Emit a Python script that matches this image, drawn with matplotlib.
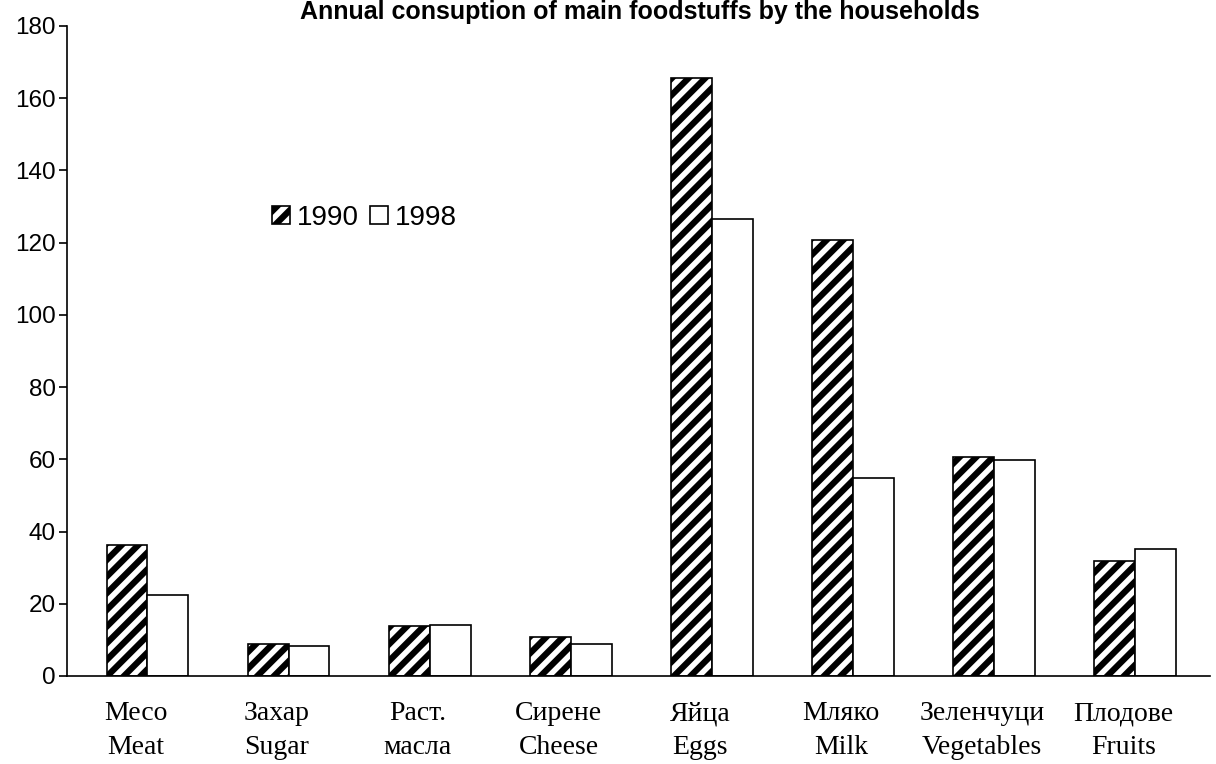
import numpy as np
import matplotlib
matplotlib.use("Agg")
import matplotlib.pyplot as plt

# data
cats_bg = ["Месо", "Захар", "Раст.", "Сирене", "Яйца", "Мляко", "Зеленчуци", "Плодове"]
cats_en = ["Meat", "Sugar", "масла", "Cheese", "Eggs", "Milk", "Vegetables", "Fruits"]
vals_1990 = [36.3, 9.0, 13.9, 10.7, 165.5, 120.7, 60.6, 31.8]
vals_1998 = [22.4, 8.4, 14.0, 9.0, 126.6, 54.8, 59.8, 35.2]
yticks = [0, 20, 40, 60, 80, 100, 120, 140, 160, 180]

plt.rcParams["font.family"] = ["Liberation Sans", "DejaVu Sans"]
plt.rcParams["hatch.linewidth"] = 4.5

fig = plt.figure(figsize=(12.16, 7.64), dpi=100)
ax = fig.add_axes([67 / 1216, 1 - 676 / 764, (1210 - 67) / 1216, (676 - 26) / 764])

x = np.arange(len(cats_bg))
w = 0.29
ax.bar(x - w / 2, vals_1990, w, color="white", edgecolor="black", hatch="//",
       linewidth=1.2, label="1990")
ax.bar(x + w / 2, vals_1998, w, color="white", edgecolor="black",
       linewidth=1.2, label="1998")

ax.set_xlim(-0.57, 7.53)
ax.set_ylim(0, 180)
ax.set_yticks(yticks)
ax.tick_params(axis="y", labelsize=17.5, length=6, width=1.2, pad=2, colors="black")
ax.set_xticks([])
for s in ("top", "right"):
    ax.spines[s].set_visible(False)
ax.spines["left"].set_linewidth(1.2)
ax.spines["bottom"].set_linewidth(1.2)

# two-line serif category labels
for xi, a, b in zip(x, cats_bg, cats_en):
    ax.text(xi - 0.085, -7, a + "\n" + b, ha="center", va="top",
            fontsize=20, family=["Liberation Serif", "DejaVu Serif"],
            linespacing=1.45)

ax.legend(loc="center left", bbox_to_anchor=(0.179, 0.705), ncol=2, frameon=False,
          fontsize=20, handlelength=0.65, handleheight=0.65, handletextpad=0.25,
          columnspacing=0.4, borderpad=0, borderaxespad=0)

fig.text(640 / 1216, 1 - 19 / 764, "Annual consuption of main foodstuffs by the households",
         ha="center", va="baseline", fontsize=18, fontweight="bold")

fig.savefig("out.png", dpi=100)
